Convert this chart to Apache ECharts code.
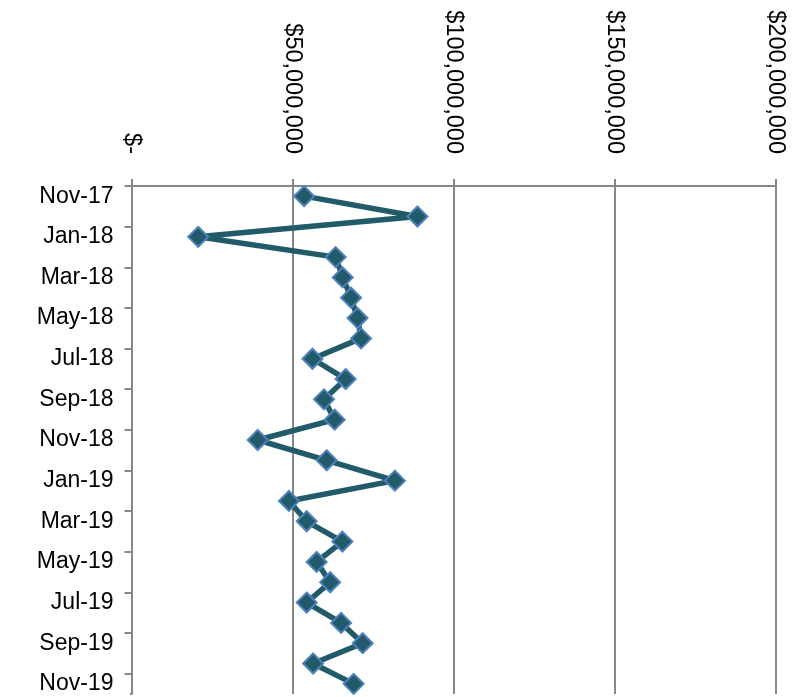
<!DOCTYPE html>
<html><head><meta charset="utf-8">
<script src="https://cdn.jsdelivr.net/npm/echarts@6/dist/echarts.min.js"></script>
<style>html,body{margin:0;padding:0;background:#fff}#c{width:797px;height:697px}</style>
</head><body><div id="c"></div>
<script>
const categories = ["Nov-17","Dec-17","Jan-18","Feb-18","Mar-18","Apr-18","May-18","Jun-18","Jul-18","Aug-18","Sep-18","Oct-18","Nov-18","Dec-18","Jan-19","Feb-19","Mar-19","Apr-19","May-19","Jun-19","Jul-19","Aug-19","Sep-19","Oct-19","Nov-19"];
const values = [53600000,88800000,20700000,63400000,65600000,68200000,70200000,71300000,56200000,66500000,59800000,63100000,39200000,60600000,81800000,48900000,54400000,65500000,57500000,61700000,54400000,65100000,71800000,56400000,69000000];
const tickLabels = {0:"$-",50000000:"$50,000,000",100000000:"$100,000,000",150000000:"$150,000,000",200000000:"$200,000,000"};
const FONT = "Liberation Sans";
const chart = echarts.init(document.getElementById('c'));
chart.setOption({
  animation:false,
  grid:{left:131.5,right:21.5,top:186,bottom:3,containLabel:false},
  graphic:[{type:'rect',z:100,shape:{x:118,y:689,width:12,height:8},style:{fill:'#fff'}}],
  xAxis:{type:'value',position:'top',min:0,max:200000000,interval:50000000,
    axisLine:{show:true,lineStyle:{color:'#878787',width:2}},
    axisTick:{show:true,length:7,lineStyle:{color:'#878787',width:2}},
    splitLine:{show:true,lineStyle:{color:'#878787',width:2}},
    axisLabel:{rotate:90,margin:32,color:'#000',fontFamily:FONT,fontSize:23.5,
      formatter:v=>tickLabels[v]}
  },
  yAxis:{type:'category',data:categories,inverse:true,boundaryGap:true,
    axisLine:{show:true,lineStyle:{color:'#878787',width:2}},
    axisTick:{show:true,interval:1,length:7,lineStyle:{color:'#878787',width:2}},
    splitLine:{show:false},
    axisLabel:{interval:1,margin:18,color:'#000',fontFamily:FONT,fontSize:23}
  },
  series:[{type:'line',data:values,symbol:'diamond',symbolSize:20,showAllSymbol:true,
    lineStyle:{color:'#215A68',width:5.5},
    itemStyle:{color:'#215A68',borderColor:'#4F81BD',borderWidth:2}
  }]
});
</script></body></html>
